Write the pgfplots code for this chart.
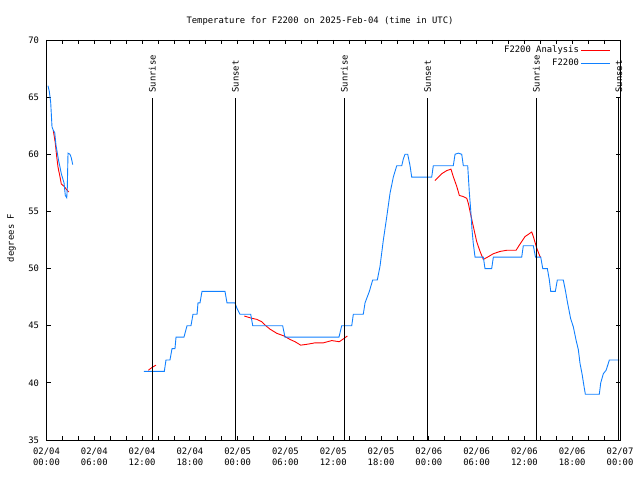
\documentclass[border=0pt]{standalone}
\usepackage{pgfplots}
\pgfplotsset{compat=1.18}
\usepackage{fontspec}
\setmainfont{DejaVu Sans Mono}

\definecolor{obsblue}{RGB}{16,128,255}
\definecolor{anared}{RGB}{255,0,0}
\newcommand\gfont{\fontsize{8.9}{11}\selectfont}

\begin{document}
\begin{tikzpicture}[font=\gfont]
    \path[use as bounding box] (0,0) rectangle (640bp,480bp);

    \begin{axis}[
        at                 = {(46.5bp,40bp)},
        anchor             = south west,
        scale only axis,
        width              = 573.5bp,
        height             = 400bp,
        clip               = false,
        xmin               = 0,
        xmax               = 72,
        ymin               = 35,
        ymax               = 70,
        xtick              = {0,6,...,72},
        xticklabels        = {{02/04\\00:00},{02/04\\06:00},{02/04\\12:00},{02/04\\18:00},
                              {02/05\\00:00},{02/05\\06:00},{02/05\\12:00},{02/05\\18:00},
                              {02/06\\00:00},{02/06\\06:00},{02/06\\12:00},{02/06\\18:00},
                              {02/07\\00:00}},
        xticklabel style   = {align=center, font=\gfont, yshift=-4bp},
        minor x tick num   = 2,
        ytick              = {35,40,...,70},
        yticklabel style   = {font=\gfont, xshift=-4bp},
        /pgf/number format/assume math mode=true,
        tick align         = inside,
        tick pos           = both,
        xticklabel pos     = lower,
        yticklabel pos     = left,
        major tick length  = 4bp,
        minor tick length  = 4bp,
        axis line style    = {line width=0.8pt},
        tick style         = {black, line width=0.8pt},
        unbounded coords   = jump,
        legend style       = {at={(1,1)}, anchor=north east, xshift=-6bp, yshift=-2bp,
                              draw=none, fill=none, font=\gfont, legend cell align=right,
                              row sep=0.5bp},
        legend plot pos    = right,
        legend image code/.code = {\draw[#1] (0bp,0bp) -- (29bp,0bp);},
    ]

    % analysis
    \addplot[anared, line width=0.9pt] coordinates {
        (0.85,62.1)(1.10,61.0)(1.28,59.8)(1.44,58.9)(1.70,58.0)(1.86,57.4)(2.20,57.2)(2.54,56.9)(2.79,56.7)
        (3.0,nan)
        (12.78,41.1)(13.25,41.35)(13.74,41.55)
        (14.0,nan)
        (24.83,45.85)(25.76,45.65)(26.39,45.56)(27.02,45.35)(27.43,45.06)(28.06,44.7)(28.90,44.34)
        (29.82,44.1)(30.57,43.8)(31.20,43.6)(31.91,43.3)(32.67,43.37)(33.71,43.5)(34.75,43.5)
        (35.81,43.7)(36.76,43.6)(37.26,43.84)(37.77,44.1)
        (40.0,nan)
        (48.77,57.7)(49.62,58.3)(50.24,58.57)(50.78,58.7)(51.07,58.04)(51.50,57.2)(51.83,56.4)
        (52.33,56.3)(52.76,56.15)(52.96,55.7)(53.17,55.0)(53.58,53.7)(54.01,52.35)(54.43,51.5)
        (54.84,50.8)(55.47,51.04)(56.10,51.3)(56.94,51.5)(57.78,51.6)(58.95,51.6)(59.45,52.15)
        (60.08,52.8)(60.92,53.2)(61.12,52.8)(61.54,51.8)(61.96,51.04)(62.05,51.0)
    };
    \addlegendentry{F2200 Analysis}

    % observations
    \addplot[obsblue, line width=0.9pt] coordinates {
        (0.19,66)(0.35,65.5)(0.53,64.5)(0.69,62.4)(0.85,62.1)(1.03,61.9)(1.19,60.8)(1.36,60.1)
        (1.53,59.4)(1.69,58.9)(1.86,58.3)(2.03,57.9)(2.20,57.5)(2.36,56.4)(2.54,56.2)(2.61,57)
        (2.70,60.1)(2.95,60)(3.11,59.7)(3.29,59.1)
        (5.0,nan)
        (12.24,41)(14.79,41)(15.00,42)(15.50,42)(15.76,43)(16.13,43)(16.26,44)(17.26,44)
        (17.64,45)(18.14,45)(18.39,46)(18.90,46)(19.02,47)(19.27,47)(19.52,48)(22.41,48)
        (22.66,47)(23.66,47)(23.92,46.5)(24.29,46)(25.64,46)(25.89,45)(29.65,45)(29.94,44)
        (36.72,44)(37.06,45)(38.32,45)(38.52,46)(39.77,46)(39.99,47)(40.53,48)(40.95,49)
        (41.53,49)(41.87,50.2)(42.29,52.5)(42.71,54.5)(43.13,56.6)(43.54,58)(43.97,59)
        (44.60,59)(44.80,59.6)(45.01,60)(45.35,60)(45.64,59)(45.85,58)(48.36,58)(48.56,59)
        (51.07,59)(51.29,60)(51.70,60.1)(52.13,60)(52.33,59)(52.88,59)(53.08,56.7)(53.26,55.1)
        (53.42,53.4)(53.58,52.2)(53.80,51)(54.84,51)(55.05,50)(55.89,50)(56.10,51)(59.66,51)
        (59.86,52)(61.12,52)(61.39,51)(62.05,51)(62.30,50)(62.88,50)(63.13,49)(63.30,48)
        (63.88,48)(64.13,49)(64.88,49)(65.14,48.1)(65.39,47.1)(65.64,46.2)(65.81,45.6)
        (66.14,44.9)(66.48,43.75)(66.77,42.9)(66.98,41.7)(67.23,40.8)(67.48,39.7)(67.65,39)
        (69.40,39)(69.58,40)(69.91,40.8)(70.25,41.1)(70.53,41.7)(70.66,42)(71.91,42)
    };
    \addlegendentry{F2200}

    % sunrise / sunset markers
    \pgfplotsinvokeforeach{13.3,37.4,61.5}{
        \addplot[black, line width=0.8pt, forget plot] coordinates {(#1,35) (#1,64.9)};
        \node[rotate=90, anchor=west, inner sep=2bp] at (axis cs:#1,65.2) {Sunrise};
    }
    \pgfplotsinvokeforeach{23.72,47.85,71.85}{
        \addplot[black, line width=0.8pt, forget plot] coordinates {(#1,35) (#1,64.9)};
        \node[rotate=90, anchor=west, inner sep=2bp] at (axis cs:#1,65.2) {Sunset};
    }
    \end{axis}

    \node at (320bp,459bp) {Temperature for F2200 on 2025-Feb-04 (time in UTC)};
    \node[rotate=90] at (11.5bp,242bp) {degrees F};
\end{tikzpicture}
\end{document}
